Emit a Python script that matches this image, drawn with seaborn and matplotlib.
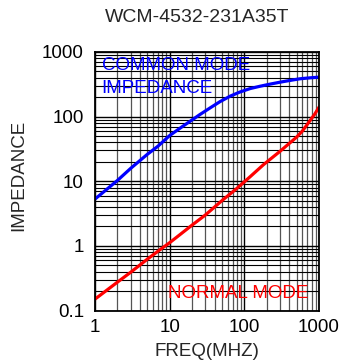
import matplotlib
matplotlib.use("Agg")
from matplotlib import pyplot as plt
import matplotlib.ticker as mtick
import pandas as pd
import seaborn as sns

# common mode curve
cm_freq = [1, 2, 3, 5, 7, 10, 15, 20, 25.5, 35, 47, 65, 87, 120, 162, 220, 300, 420, 555, 750, 1000]
cm_imp = [5.3, 10.3, 15.8, 26, 35, 51, 71, 89, 108, 137, 170, 208, 240, 272, 295, 318, 341, 365, 385, 398, 408]

# normal mode curve
nm_freq = [1, 2, 3, 5, 8, 10, 20, 30, 50, 80, 120, 180, 300, 500, 600, 680, 880, 1000]
nm_imp = [0.15, 0.275, 0.39, 0.62, 0.93, 1.12, 2.1, 3.0, 5.0, 7.8, 11.8, 18, 29, 48, 60, 73, 110, 140]

x_ticks = [1, 10, 100, 1000]
y_ticks = [0.1, 1, 10, 100, 1000]

cm = pd.DataFrame({"freq": cm_freq, "imp": cm_imp})
nm = pd.DataFrame({"freq": nm_freq, "imp": nm_imp})

sns.set_style("white")
plt.rcParams["font.family"] = ["Liberation Sans", "DejaVu Sans"]

fig = plt.figure(figsize=(3.39, 3.63), dpi=100)
ax = fig.add_axes([95 / 339, 1 - 310.5 / 363, 224 / 339, 258.5 / 363])

ax.set_xscale("log")
ax.set_yscale("log")
ax.set_xlim(1, 1000)
ax.set_ylim(0.1, 1000)

# grid first so the curves sit on top
ax.grid(which="major", axis="both", color="black", linewidth=1.0)
ax.grid(which="minor", axis="x", color="#555555", linewidth=0.9)
ax.grid(which="minor", axis="y", color="black", linewidth=0.8)
ax.set_axisbelow(True)

sns.lineplot(data=cm, x="freq", y="imp", color="#0000ff", linewidth=2.3, ax=ax)
sns.lineplot(data=nm, x="freq", y="imp", color="#ff0000", linewidth=2.3, ax=ax)

ax.xaxis.set_major_locator(mtick.FixedLocator(x_ticks))
ax.yaxis.set_major_locator(mtick.FixedLocator(y_ticks))
ax.xaxis.set_minor_locator(mtick.LogLocator(base=10, subs=range(2, 10)))
ax.yaxis.set_minor_locator(mtick.LogLocator(base=10, subs=range(2, 10)))
ax.xaxis.set_major_formatter(mtick.FixedFormatter([str(t) for t in x_ticks]))
ax.yaxis.set_major_formatter(mtick.FixedFormatter(["0.1", "1", "10", "100", "1000"]))
ax.xaxis.set_minor_formatter(mtick.NullFormatter())
ax.yaxis.set_minor_formatter(mtick.NullFormatter())
ax.tick_params(which="both", length=0, labelsize=13.5, colors="black")
ax.tick_params(axis="x", pad=6)
ax.tick_params(axis="y", pad=8)

for s in ax.spines.values():
    s.set_color("black")
    s.set_linewidth(1.3)

ax.set_xlabel("FREQ(MHZ)", fontsize=13.5)
ax.xaxis.label.set_va("baseline")
ax.xaxis.set_label_coords(0.5, -0.176)
ax.set_ylabel("IMPEDANCE", fontsize=13.5)
ax.yaxis.label.set_va("center")
ax.yaxis.set_label_coords(-0.340, 0.524)

ax.text(0.03, 0.930, "COMMON MODE", transform=ax.transAxes, color="#0000ff", fontsize=13.5, va="baseline")
ax.text(0.03, 0.8425, "IMPEDANCE", transform=ax.transAxes, color="#0000ff", fontsize=13.5, va="baseline")
ax.text(0.327, 0.0495, "NORMAL MODE", transform=ax.transAxes, color="#ff0000", fontsize=13.5, va="baseline")

fig.text(197 / 339, 1 - 21.7 / 363, "WCM-4532-231A35T", ha="center", va="baseline", fontsize=14)

fig.savefig("out.png", dpi=100)
